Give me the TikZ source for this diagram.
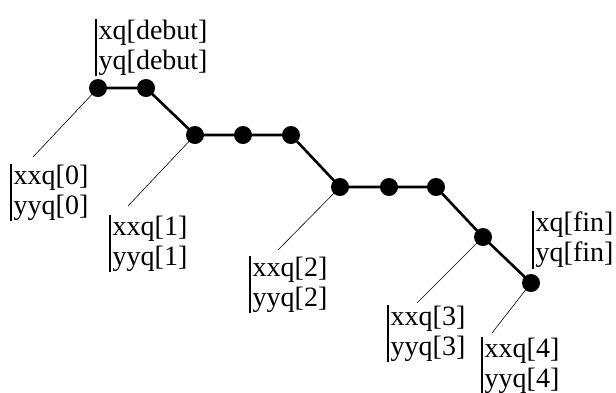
\documentclass[tikz,border=0pt]{standalone}
\usepackage{fontspec}
\setmainfont{Liberation Serif}
\begin{document}
\begin{tikzpicture}[x=1pt,y=-1pt,
  pt/.style={circle,fill=black,inner sep=0pt,minimum size=18pt},
  lab/.style={anchor=north west,align=left,inner xsep=2.5pt,inner ysep=1pt,
    font=\fontsize{28}{29.5}\selectfont},
  thick line/.style={line width=2.6pt},
  thin line/.style={line width=0.6pt}]
\useasboundingbox (0,0) rectangle (616,392);
% dots
\node[pt] (d1) at (98,88) {};
\node[pt] (d2) at (146,88) {};
\node[pt] (d3) at (195,135) {};
\node[pt] (d4) at (243,135) {};
\node[pt] (d5) at (291,135) {};
\node[pt] (d6) at (340,187) {};
\node[pt] (d7) at (389,187) {};
\node[pt] (d8) at (436,187) {};
\node[pt] (d9) at (483,237) {};
\node[pt] (d10) at (531,283) {};
\draw[thick line] (d1.center) -- (d2.center) -- (d3.center) -- (d4.center) -- (d5.center)
  -- (d6.center) -- (d7.center) -- (d8.center) -- (d9.center) -- (d10.center);
% labels
\node[lab] (ldeb) at (96,19) {xq[debut]\\yq[debut]};
\node[lab] (l0) at (11,164) {xxq[0]\\yyq[0]};
\node[lab] (l1) at (110,215) {xxq[1]\\yyq[1]};
\node[lab] (l2) at (250,256) {xxq[2]\\yyq[2]};
\node[lab] (l3) at (388,305) {xxq[3]\\yyq[3]};
\node[lab] (l4) at (482,337) {xxq[4]\\yyq[4]};
\node[lab] (lfin) at (533,211) {xq[fin]\\yq[fin]};
\foreach \n in {ldeb,l0,l1,l2,l3,l4,lfin}
  \draw[line width=1.1pt] (\n.north west) -- (\n.south west);
% leader lines
\coordinate (e0) at (33,157);
\coordinate (e1) at (128,206);
\coordinate (e2) at (278,250);
\coordinate (e3) at (417,303);
\coordinate (e4) at (492,333);
\draw[thin line] (d1.center) -- (e0);
\draw[thin line] (d3.center) -- (e1);
\draw[thin line] (d6.center) -- (e2);
\draw[thin line] (d9.center) -- (e3);
\draw[thin line] (d10.center) -- (e4);
\end{tikzpicture}
\end{document}
